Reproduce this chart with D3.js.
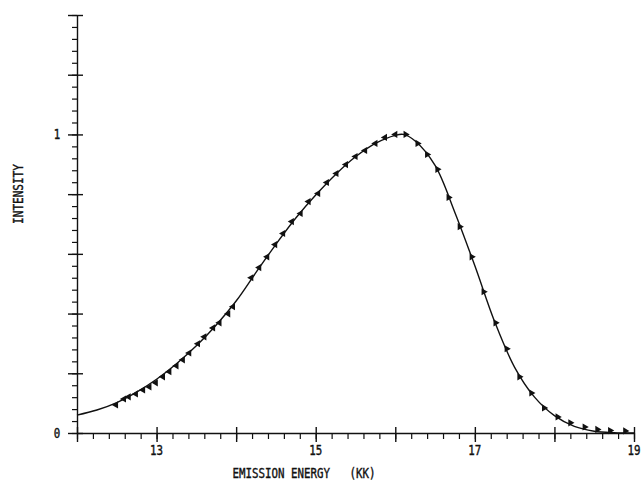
<!DOCTYPE html>
<html lang="en">
<head>
<meta charset="UTF-8">
<title>Emission spectrum</title>
<script src="https://cdn.jsdelivr.net/npm/d3@7"></script>
<style>
  html, body { margin: 0; padding: 0; background: #fff; }
  svg text { font-family: "DejaVu Sans Mono", monospace; fill: #111; stroke: #111; stroke-width: 0.35; }
</style>
</head>
<body>
<div class="chart"></div>
<script>
// measured points (emission energy in kK, relative intensity)
const dataE = [12.49, 12.59, 12.65, 12.74, 12.83, 12.91, 12.99, 13.08, 13.16, 13.25, 13.33, 13.41,
  13.52, 13.60, 13.71, 13.79, 13.90, 13.96, 14.19, 14.29, 14.39, 14.49, 14.59, 14.70, 14.81, 14.91,
  15.03, 15.14, 15.26, 15.38, 15.50, 15.62, 15.75, 15.87, 16.00, 16.13, 16.28, 16.40, 16.53, 16.67,
  16.81, 16.96, 17.11, 17.26, 17.40, 17.56, 17.71, 17.87, 18.04, 18.20, 18.38, 18.54, 18.70, 18.89]
const dataI = [0.094, 0.114, 0.121, 0.131, 0.144, 0.154, 0.168, 0.188, 0.205, 0.225, 0.245, 0.268,
  0.299, 0.322, 0.352, 0.369, 0.399, 0.423, 0.520, 0.554, 0.590, 0.631, 0.668, 0.708, 0.735, 0.775,
  0.802, 0.839, 0.869, 0.899, 0.926, 0.946, 0.970, 0.990, 1.000, 1.000, 0.970, 0.933, 0.883, 0.789,
  0.691, 0.590, 0.473, 0.369, 0.282, 0.188, 0.134, 0.084, 0.054, 0.034, 0.020, 0.012, 0.008, 0.007]

// fitted curve
const fitE = [12.0, 12.25, 12.5, 12.75, 13.0, 13.25, 13.5, 13.75, 14.0, 14.25, 14.5, 14.75, 15.0,
  15.25, 15.5, 15.75, 16.0, 16.1, 16.25, 16.5, 16.75, 17.0, 17.25, 17.5, 17.75, 18.0, 18.25, 18.5,
  18.75, 19.0]
const fitI = [0.060, 0.077, 0.102, 0.137, 0.180, 0.232, 0.292, 0.362, 0.442, 0.538, 0.632, 0.720,
  0.797, 0.866, 0.925, 0.970, 0.997, 1.000, 0.978, 0.896, 0.738, 0.560, 0.372, 0.220, 0.120, 0.058,
  0.022, 0.006, 0.001, 0.000]

const xLabels = [13, 15, 17, 19]
const yLabels = [0, 1]

const X_LABEL = 'EMISSION ENERGY   (KK)'
const Y_LABEL = 'INTENSITY'

function visualize() {
  const WIDTH = 642
  const HEIGHT = 482
  const LEFT = 77, RIGHT = 634, TOP = 15, BOTTOM = 433

  const svg = d3.select('.chart').append('svg')
    .attr('width', WIDTH)
    .attr('height', HEIGHT)

  const x = d3.scaleLinear().domain([12, 19]).range([LEFT, RIGHT])
  const y = d3.scaleLinear().domain([0, 1.4]).range([BOTTOM, TOP])

  // x axis: minor ticks below, major ticks crossing
  svg.append('g')
    .attr('transform', `translate(0, ${BOTTOM})`)
    .call(d3.axisBottom(x).tickValues(d3.range(12, 19.01, 0.2)).tickSize(6).tickFormat(''))
    .call(g => g.select('.domain').remove())
    .selectAll('line').attr('stroke', '#111').attr('stroke-width', 1.2)

  svg.append('g')
    .attr('transform', `translate(0, ${BOTTOM})`)
    .call(d3.axisBottom(x).tickValues(d3.range(12, 19.01, 1)).tickSizeOuter(0).tickFormat(''))
    .call(g => g.select('.domain').attr('stroke', '#111').attr('stroke-width', 1.4))
    .call(g => g.selectAll('.tick line').attr('y1', -6).attr('y2', 9)
      .attr('stroke', '#111').attr('stroke-width', 1.4))

  // y axis: minor ticks left, major ticks crossing
  svg.append('g')
    .attr('transform', `translate(${LEFT}, 0)`)
    .call(d3.axisLeft(y).tickValues(d3.range(0, 1.401, 0.04)).tickSize(5).tickFormat(''))
    .call(g => g.select('.domain').remove())
    .selectAll('line').attr('stroke', '#111').attr('stroke-width', 1.2)

  svg.append('g')
    .attr('transform', `translate(${LEFT}, 0)`)
    .call(d3.axisLeft(y).tickValues(d3.range(0, 1.401, 0.2)).tickSizeOuter(0).tickFormat(''))
    .call(g => g.select('.domain').attr('stroke', '#111').attr('stroke-width', 1.4))
    .call(g => g.selectAll('.tick line').attr('x1', -9).attr('x2', 6)
      .attr('stroke', '#111').attr('stroke-width', 1.4))

  // tick labels (narrow, tall plotter lettering)
  svg.append('g').selectAll('text')
    .data(xLabels)
    .join('text')
      .attr('transform', d => `translate(${x(d)}, 455) scale(0.9, 1.15)`)
      .attr('text-anchor', 'middle')
      .attr('font-size', 12)
      .text(d => d)

  svg.append('g').selectAll('text')
    .data(yLabels)
    .join('text')
      .attr('transform', d => `translate(57, ${y(d) + 5}) scale(0.9, 1.15)`)
      .attr('text-anchor', 'middle')
      .attr('font-size', 12)
      .text(d => d)

  // axis titles
  svg.append('text')
    .attr('transform', `translate(${(235 + 373) / 2}, 478) scale(0.9, 1.15)`)
    .attr('text-anchor', 'middle')
    .attr('font-size', 12)
    .style('white-space', 'pre')
    .text(X_LABEL)

  svg.append('text')
    .attr('transform', `translate(23, 194) rotate(-90) scale(0.92, 1.15)`)
    .attr('text-anchor', 'middle')
    .attr('font-size', 12)
    .text(Y_LABEL)

  // fitted curve
  const line = d3.line()
    .x((d, i) => x(fitE[i]))
    .y(d => y(d))
    .curve(d3.curveCatmullRom)

  svg.append('path')
    .datum(fitI)
    .attr('d', line)
    .attr('fill', 'none')
    .attr('stroke', '#111')
    .attr('stroke-width', 1.4)

  // data markers
  const tri = d3.symbol().type(d3.symbolTriangle).size(22)
  svg.append('g').selectAll('path')
    .data(dataI)
    .join('path')
      .attr('d', tri)
      .attr('transform', (d, i) =>
        `translate(${x(dataE[i])}, ${y(d)}) rotate(${dataE[i] < 16.1 ? -90 : 90})`)
      .attr('fill', '#111')
}

window.onload = visualize
</script>
</body>
</html>
